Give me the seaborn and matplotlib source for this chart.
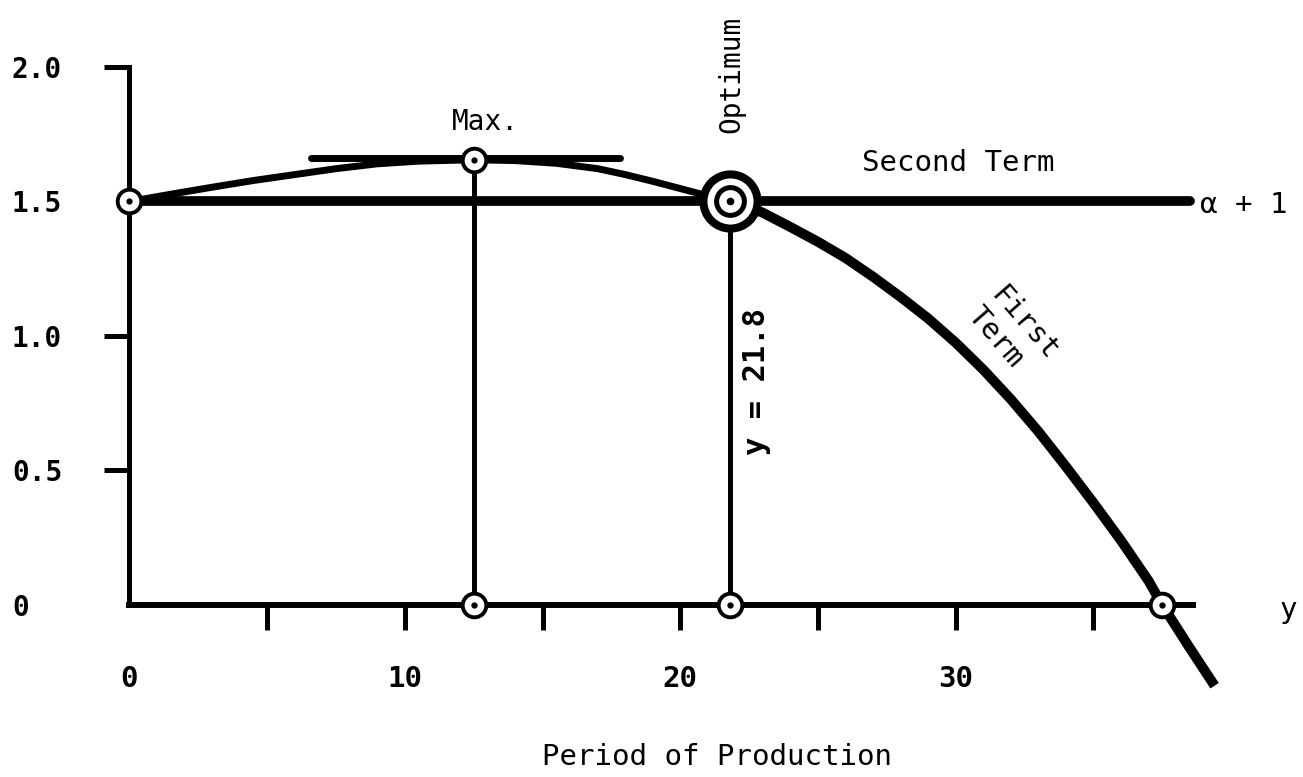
import matplotlib
matplotlib.use('Agg')
import matplotlib.pyplot as plt
import seaborn as sns

# first term curve
first_x = [0, 1.5, 3, 4.5, 6, 7.5, 9, 10.5, 12.5, 14, 15.5, 17, 18, 19, 20, 21, 21.8,
           22.5, 23, 24, 25, 26, 27, 28, 29, 30, 31, 32, 33, 34, 35, 36, 37,
           37.5, 38.5, 39.4]
first_y = [1.5, 1.527, 1.553, 1.578, 1.60, 1.622, 1.64, 1.65, 1.655, 1.652, 1.642,
           1.622, 1.60, 1.575, 1.548, 1.521, 1.5,
           1.478, 1.458, 1.405, 1.35, 1.29, 1.22, 1.145, 1.065, 0.975, 0.875, 0.765,
           0.645, 0.515, 0.38, 0.24, 0.09, 0.0, -0.16, -0.30]

second_level = 1.5          # alpha + 1
second_end = 38.5
max_x, max_y = 12.5, 1.655
opt_x = 21.8
zero_x = 37.5
tangent_x = [6.6, 17.8]
tangent_y = 1.662
axis_end = 38.6

x_label_pos = [0, 10, 20, 30]
x_labels = ['0', '10', '20', '30']
x_tick_marks = [5, 10, 15, 20, 25, 30, 35]
y_label_pos = [0, 0.5, 1.0, 1.5, 2.0]
y_labels = ['0', '0.5', '1.0', '1.5', '2.0']
y_tick_marks = [0.5, 1.0, 2.0]

sns.set_theme(style='ticks')
plt.rcParams['font.family'] = ['DejaVu Sans Mono', 'DejaVu Sans']
plt.rcParams['text.color'] = 'black'
plt.rcParams['xtick.color'] = 'black'
plt.rcParams['ytick.color'] = 'black'

fig = plt.figure(figsize=(13.03, 7.77), dpi=100)
ax = fig.add_axes([0, 0, 1, 1])
ax.set_xlim(-4.702, 42.61)
ax.set_ylim(-0.6394, 2.249)
ax.patch.set_alpha(0)

# axes as spines
for s in ['top', 'right']:
    ax.spines[s].set_visible(False)
ax.spines['left'].set_position(('data', 0))
ax.spines['left'].set_bounds(0, 2.0)
ax.spines['left'].set_linewidth(3.6)
ax.spines['left'].set_color('black')
ax.spines['bottom'].set_position(('data', 0))
ax.spines['bottom'].set_bounds(0, axis_end)
ax.spines['bottom'].set_linewidth(4.3)
ax.spines['bottom'].set_color('black')
ax.xaxis.remove_overlapping_locs = False
ax.yaxis.remove_overlapping_locs = False

ax.set_xticks(x_label_pos)
ax.set_xticklabels(x_labels, fontweight='bold')
ax.set_xticks(x_tick_marks, minor=True)
ax.tick_params(axis='x', which='major', length=0, pad=43, labelsize=21)
ax.tick_params(axis='x', which='minor', length=18, width=3.6, direction='out')

ax.set_yticks(y_label_pos)
ax.set_yticklabels(y_labels, fontweight='bold', ha='left')
ax.set_yticks(y_tick_marks, minor=True)
ax.tick_params(axis='y', which='major', length=0, pad=84.6, labelsize=20)
ax.tick_params(axis='y', which='minor', length=18, width=3.6, direction='out')

# second term line
ax.plot([0, second_end], [second_level, second_level], color='black', lw=7,
        solid_capstyle='round', zorder=2)

# first term curve (thinner before optimum)
k = first_x.index(opt_x)
sns.lineplot(x=first_x[:k + 1], y=first_y[:k + 1], ax=ax, color='black', lw=5,
             sort=False, estimator=None, solid_capstyle='round',
             solid_joinstyle='round', zorder=3)
sns.lineplot(x=first_x[k:], y=first_y[k:], ax=ax, color='black', lw=7.2,
             sort=False, estimator=None, solid_capstyle='butt',
             solid_joinstyle='round', zorder=3)

# tangent at max
ax.plot(tangent_x, [tangent_y, tangent_y], color='black', lw=5,
        solid_capstyle='round', zorder=3)

# drop lines
ax.plot([max_x, max_x], [0, max_y], color='black', lw=3.6, zorder=2)
ax.plot([opt_x, opt_x], [0, second_level], color='black', lw=3.6, zorder=2)

# small circled points
px = [0, max_x, max_x, opt_x, zero_x]
py = [second_level, max_y, 0, 0, 0]
ax.plot(px, py, 'o', ms=17, mfc='white', mec='black', mew=2.8, zorder=5)
ax.plot(px, py, 'o', ms=3.5, color='black', zorder=6)

# optimum double circle
ax.plot([opt_x], [second_level], 'o', ms=39, mfc='white', mec='black', mew=5.8, zorder=5)
ax.plot([opt_x], [second_level], 'o', ms=20, mfc='white', mec='black', mew=3.6, zorder=6)
ax.plot([opt_x], [second_level], 'o', ms=4.5, color='black', zorder=7)

# labels
fs = 21
ax.text(12.94, 1.796, 'Max.', fontsize=20, ha='center', va='center')
ax.text(21.87, 1.974, 'Optimum', fontsize=20, rotation=90, ha='center', va='center')
ax.text(30.08, 1.643, 'Second Term', fontsize=fs, ha='center', va='center')
ax.text(38.87, 1.487, 'α + 1', fontsize=fs, ha='left', va='center')
ax.text(32.07, 1.007, 'First\nTerm', fontsize=fs, rotation=-49, ha='center',
        va='center', multialignment='left', rotation_mode='anchor', linespacing=1.1)
ax.text(22.78, 0.829, 'y = 21.8', fontsize=22, fontweight='bold', rotation=90,
        ha='center', va='center')
ax.text(42.07, -0.019, 'y', fontsize=fs, ha='center', va='center')
ax.text(21.33, -0.565, 'Period of Production', fontsize=fs, ha='center', va='center')

fig.savefig('out.png', dpi=100, facecolor='white')
